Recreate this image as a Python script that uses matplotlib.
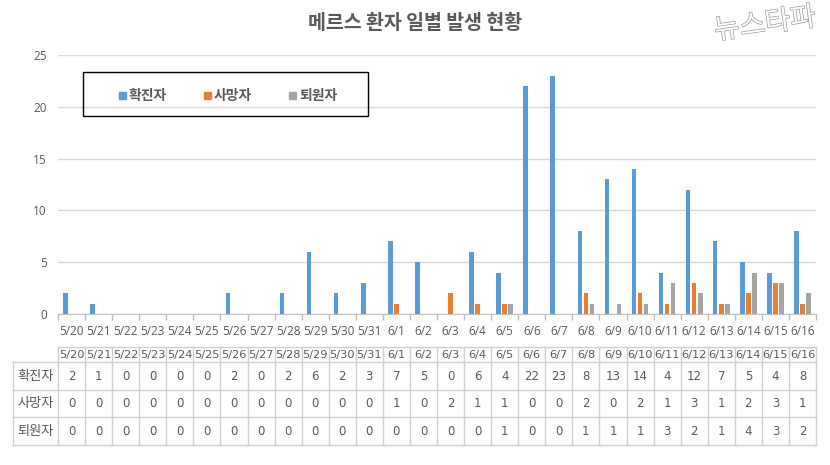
import matplotlib
matplotlib.use("Agg")
import matplotlib.pyplot as plt
import matplotlib.patheffects as pe
from matplotlib.patches import Rectangle
import numpy as np

dates = ["5/20", "5/21", "5/22", "5/23", "5/24", "5/25", "5/26", "5/27", "5/28", "5/29",
         "5/30", "5/31", "6/1", "6/2", "6/3", "6/4", "6/5", "6/6", "6/7", "6/8",
         "6/9", "6/10", "6/11", "6/12", "6/13", "6/14", "6/15", "6/16"]
confirmed = [2, 1, 0, 0, 0, 0, 2, 0, 2, 6, 2, 3, 7, 5, 0, 6, 4, 22, 23, 8, 13, 14, 4, 12, 7, 5, 4, 8]
deaths    = [0, 0, 0, 0, 0, 0, 0, 0, 0, 0, 0, 0, 1, 0, 2, 1, 1, 0, 0, 2, 0, 2, 1, 3, 1, 2, 3, 1]
released  = [0, 0, 0, 0, 0, 0, 0, 0, 0, 0, 0, 0, 0, 0, 0, 0, 1, 0, 0, 1, 1, 1, 3, 2, 1, 4, 3, 2]
series_names = ["확진자", "사망자", "퇴원자"]
series_values = [confirmed, deaths, released]
colors = ["#5B9BD5", "#ED7D31", "#A5A5A5"]
yticks = [0, 5, 10, 15, 20, 25]
title = "메르스 환자 일별 발생 현황"

plt.rcParams['font.family'] = ['Noto Sans CJK KR', 'DejaVu Sans']

W, H = 830, 465
fig = plt.figure(figsize=(W / 100, H / 100), dpi=100)
fig.patch.set_facecolor("white")

def fx(px):
    return px / W

def fy(py):
    return 1 - py / H

TXT = "#595959"
GRID = "#D9D9D9"

# main chart axes
L, R, T, B = 58, 816, 55, 314
ax = fig.add_axes([fx(L), fy(B), fx(R) - fx(L), fy(T) - fy(B)])
n = len(dates)
x = np.arange(n)
bw = 0.17
offsets = [-0.225, 0.0, 0.225]
for vals, off, c, name in zip(series_values, offsets, colors, series_names):
    ax.bar(x + off, vals, width=bw, color=c, label=name, zorder=3)

ax.set_xlim(-0.5, n - 0.5)
ax.set_ylim(0, 25)
ax.set_yticks(yticks)
ax.set_yticklabels([str(v) for v in yticks], family='Open Sans', fontsize=8.5, color=TXT)
ax.yaxis.grid(True, color=GRID, linewidth=1, zorder=0)
ax.tick_params(axis='y', length=0, pad=8)
ax.set_xticks(x)
ax.set_xticklabels(dates, family='Open Sans', fontsize=8.5, color=TXT)
ax.tick_params(axis='x', length=0, pad=8)
ax.set_xticks(np.arange(n + 1) - 0.5, minor=True)
ax.tick_params(axis='x', which='minor', length=4, color="#BFBFBF", width=1)
for s in ['top', 'right', 'left']:
    ax.spines[s].set_visible(False)
ax.spines['bottom'].set_color("#BFBFBF")
ax.set_facecolor("none")

# title
fig.text(fx(415), fy(23), title, ha='center', va='center', fontsize=14,
         fontweight='bold', color=TXT)

# logo
fig.text(fx(765), fy(24), "뉴스타파", ha='center', va='center', fontsize=20,
         color="white", rotation=8, style='italic',
         path_effects=[pe.withStroke(linewidth=1.0, foreground="#9A9A9A")])

# legend box
fig.patches.append(Rectangle((fx(83), fy(116)), fx(368) - fx(83), fy(72) - fy(116),
                             transform=fig.transFigure, fill=False, edgecolor="black",
                             linewidth=1.0))
leg_x = [119, 204, 289]
for lx, name, c in zip(leg_x, series_names, colors):
    fig.patches.append(Rectangle((fx(lx), fy(99)), fx(7), 7 / H,
                                 transform=fig.transFigure, color=c))
    fig.text(fx(lx + 10), fy(96), name, ha='left', va='center', fontsize=10,
             fontweight='bold', color=TXT)

# table
tab_left, tab_right = 13, 816
row_y = [347, 362, 390, 417, 445]
cw = (R - L) / n
line_c = "#D0D0D0"
tax = fig.add_axes([0, 0, 1, 1])
tax.set_xlim(0, W)
tax.set_ylim(H, 0)
tax.axis('off')
# horizontal lines
tax.plot([L, R], [row_y[0], row_y[0]], color=line_c, lw=1)
for yy in row_y[1:]:
    tax.plot([tab_left, R], [yy, yy], color=line_c, lw=1)
# vertical lines
tax.plot([tab_left, tab_left], [row_y[1], row_y[-1]], color=line_c, lw=1)
for i in range(n + 1):
    xx = L + i * cw
    tax.plot([xx, xx], [row_y[0], row_y[-1]], color=line_c, lw=1)
# header
for i, d in enumerate(dates):
    tax.text(L + (i + 0.5) * cw, (row_y[0] + row_y[1]) / 2 + 0.5, d, ha='center', va='center',
             family='DejaVu Sans', fontsize=8.2, color=TXT)
for r, (name, vals) in enumerate(zip(series_names, series_values)):
    yc = (row_y[r + 1] + row_y[r + 2]) / 2
    tax.text((tab_left + L) / 2, yc, name, ha='center', va='center', fontsize=9.5, color=TXT)
    for i, v in enumerate(vals):
        tax.text(L + (i + 0.5) * cw, yc, str(v), ha='center', va='center',
                 family='DejaVu Sans', fontsize=8.5, color=TXT)

fig.savefig("out.png", dpi=100, facecolor="white")
